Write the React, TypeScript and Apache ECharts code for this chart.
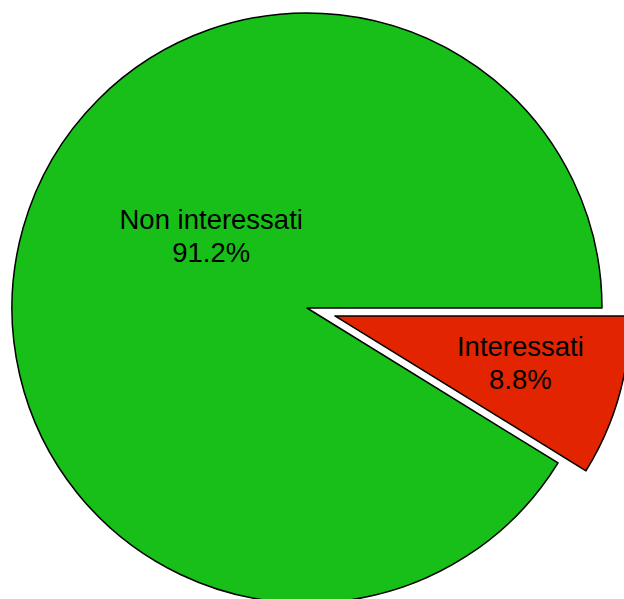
import React, { useEffect, useRef } from "react";
import * as echarts from "echarts";

const categories = ["Interessati", "Non interessati"];
const values = [8.8, 91.2];
const colors = ["#e32400", "#19bf19"];
const labelOffsets: [number, number][] = [[38, -30], [49, -31]];

export default function App() {
  const ref = useRef<HTMLDivElement>(null);
  useEffect(() => {
    if (!ref.current) return;
    const chart = echarts.init(ref.current, null, { renderer: "svg" });
    const labelFor = (i: number) => ({
      show: true,
      position: "inside",
      formatter: "{b}\n{d}%",
      color: "#000",
      fontFamily: "Liberation Sans, Arial, sans-serif",
      fontSize: 27.5,
      lineHeight: 33,
      offset: labelOffsets[i],
    });
    chart.setOption({
      animation: false,
      backgroundColor: "#ffffff",
      series: [
        {
          type: "pie",
          center: [307, 308],
          radius: 295,
          startAngle: 0,
          clockwise: true,
          avoidLabelOverlap: false,
          percentPrecision: 1,
          selectedMode: "single",
          selectedOffset: 29,
          itemStyle: { borderColor: "#000000", borderWidth: 1.5 },
          emphasis: { disabled: true },
          labelLine: { show: false },
          data: categories.map((name, i) => ({
            name,
            value: values[i],
            selected: i === 0,
            itemStyle: { color: colors[i], borderColor: "#000", borderWidth: 1.5 },
            select: {
              itemStyle: { color: colors[i], borderColor: "#000", borderWidth: 1.5 },
              label: labelFor(i),
            },
            label: labelFor(i),
          })),
        },
      ],
    });
    return () => chart.dispose();
  }, []);
  return (
    <div
      ref={ref}
      style={{ position: "fixed", left: 0, top: 0, width: 624, height: 599 }}
    />
  );
}
